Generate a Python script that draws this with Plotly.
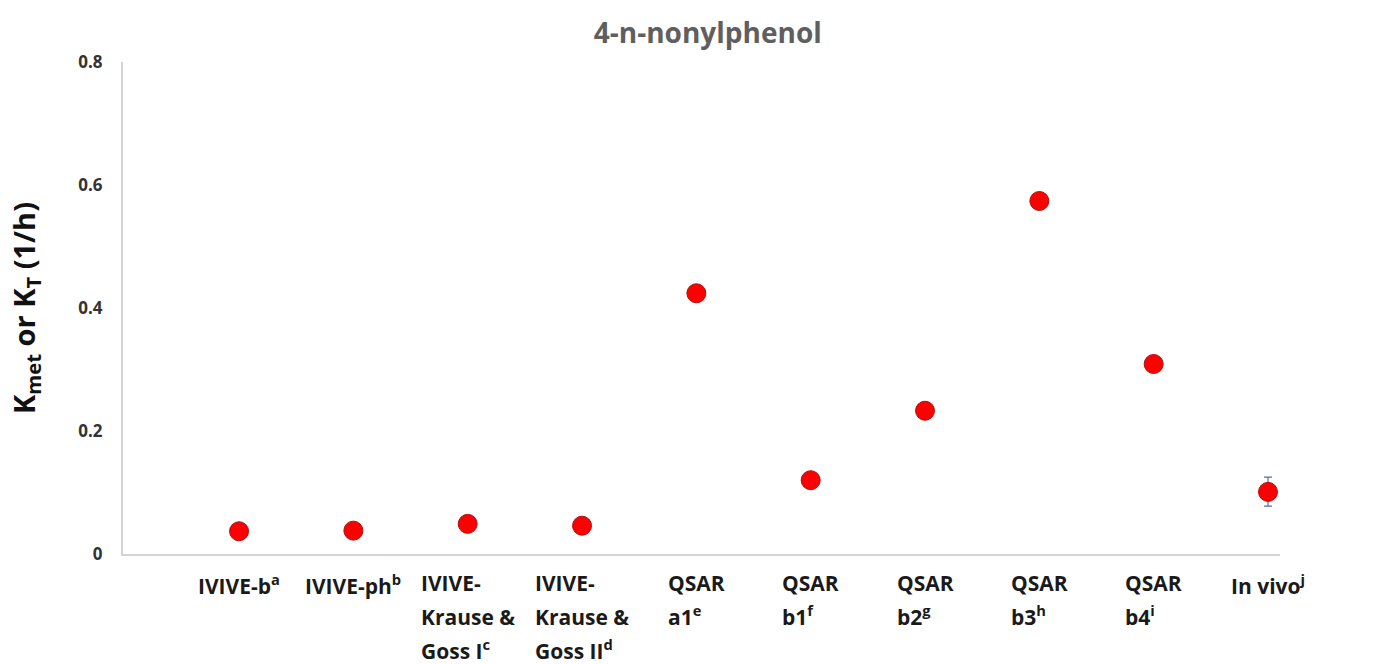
import plotly.graph_objects as go

category_lines = [
    ["IVIVE-b<sup>a</sup>"],
    ["IVIVE-ph<sup>b</sup>"],
    ["IVIVE-", "Krause &amp;", "Goss I<sup>c</sup>"],
    ["IVIVE-", "Krause &amp;", "Goss II<sup>d</sup>"],
    ["QSAR", "a1<sup>e</sup>"],
    ["QSAR", "b1<sup>f</sup>"],
    ["QSAR", "b2<sup>g</sup>"],
    ["QSAR", "b3<sup>h</sup>"],
    ["QSAR", "b4<sup>i</sup>"],
    ["In vivo<sup>j</sup>"],
]
values = [0.037, 0.038, 0.049, 0.046, 0.424, 0.120, 0.233, 0.574, 0.309, 0.101]
err_plus = [0, 0, 0, 0, 0, 0, 0, 0, 0, 0.024]
err_minus = [0, 0, 0, 0, 0, 0, 0, 0, 0, 0.023]
y_ticks = [0, 0.2, 0.4, 0.6, 0.8]
y_ticktext = ["0", "0.2", "0.4", "0.6", "0.8"]

FONT = "Open Sans"
LABEL_PX = 21
xs = list(range(len(category_lines)))

fig = go.Figure()
fig.add_trace(go.Scatter(
    x=xs, y=values, mode="markers",
    marker=dict(color="#ff0000", size=19, line=dict(color="#b01010", width=1)),
    error_y=dict(type="data", symmetric=False, array=err_plus, arrayminus=err_minus,
                 color="#5f6a9c", thickness=1.2, width=4),
    showlegend=False, hoverinfo="skip",
))

for i, lines in enumerate(category_lines):
    text = "<br>".join(f"<span style='font-size:{LABEL_PX}px'>{ln}</span>" for ln in lines)
    fig.add_annotation(
        x=i, y=0, xref="x", yref="y", text=text, showarrow=False,
        xanchor="center", yanchor="top", align="left", yshift=-13,
        font=dict(family=FONT, size=26, color="#1a1a1a", weight="bold"),
    )

fig.update_layout(
    width=1377, height=664,
    margin=dict(l=123, r=97, t=62, b=110),
    plot_bgcolor="white", paper_bgcolor="white",
    title=dict(text="<b>4-n-nonylphenol</b>", x=0.514, xanchor="center", y=0.95, yanchor="middle",
               font=dict(family=FONT, size=28, color="#5f5f5f")),
    xaxis=dict(range=[-1.015, 9.105], showgrid=False, zeroline=False, showticklabels=False,
               showline=True, linecolor="#d4d4d4", linewidth=2, ticks=""),
    yaxis=dict(range=[0, 0.8], tickvals=y_ticks, ticktext=y_ticktext, showgrid=False,
               zeroline=False, showline=True, linecolor="#d4d4d4", linewidth=2,
               ticks="", ticklabelstandoff=15,
               tickfont=dict(family=FONT, size=17, color="#333333", weight="bold"),
               title=dict(text="K<sub>met</sub> or K<sub>T</sub> (1/h)", standoff=34,
                          font=dict(family=FONT, size=29, color="#111111", weight="bold"))),
)

fig.write_html("out.html")
